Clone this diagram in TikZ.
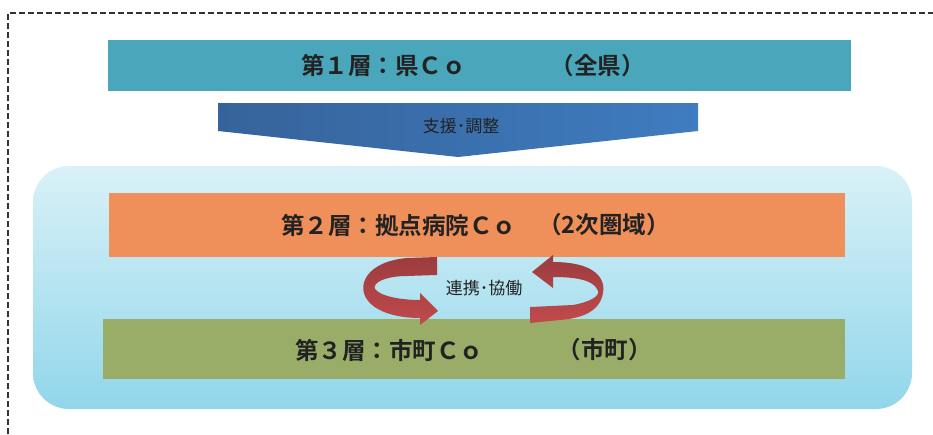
\documentclass[tikz,border=0pt]{standalone}
\usepackage{fontspec}
\newfontfamily\jp{Noto Sans CJK JP}[BoldFont={Noto Sans CJK JP Bold}]
\definecolor{tealbar}{HTML}{4AA6BA}
\definecolor{orangebar}{HTML}{EF8F5A}
\definecolor{greenbar}{HTML}{9AAD68}
\definecolor{bgtop}{HTML}{D9F1F7}
\definecolor{bgbot}{HTML}{91D6EB}
\definecolor{arrL}{HTML}{36639A}
\definecolor{arrR}{HTML}{3F7CC0}
\definecolor{redD}{HTML}{9C3C3E}
\definecolor{redL}{HTML}{C04A4C}
\definecolor{txt}{HTML}{222222}
\begin{document}
\begin{tikzpicture}[x=1pt,y=-1pt,
  bar/.style={draw=none,inner sep=0pt,outer sep=0pt},
  big/.style={font=\jp\bfseries\fontsize{23.5}{23.5}\selectfont,text=txt,inner sep=0pt},
  small/.style={font=\jp\fontsize{17}{17}\selectfont,text=txt,inner sep=0pt},
  ring/.style={top color=redD,bottom color=redL,draw=none}]
\useasboundingbox (0,0) rectangle (933,434);
% dashed frame
\draw[dash pattern=on 6pt off 3pt,line width=1.4pt,color=black!80] (8,434) -- (8,13) -- (933,13);
% background panel
\node[bar,minimum width=879pt,minimum height=243pt,rounded corners=36pt,top color=bgtop,bottom color=bgbot] (panel) at (472.5,287.5) {};
% layer bars
\node[bar,fill=tealbar,minimum width=743pt,minimum height=51pt] (l1) at (479.5,65.5) {};
\node[bar,fill=orangebar,minimum width=736pt,minimum height=64pt] (l2) at (477,225) {};
\node[bar,fill=greenbar,minimum width=742pt,minimum height=60pt] (l3) at (474,348.5) {};
% support arrow
\shade[left color=arrL,right color=arrR] (218,103) -- (698,103) -- (698,131) -- (458,157) -- (218,131) -- cycle;
\node[small] (sup) at (461,126) {支援･調整};
% layer texts
\node[big,anchor=west] (t1a) at (301,65.5) {第１層：県Ｃｏ};
\node[big,anchor=east] (t1b) at (645,65.5) {（全県）};
\node[big,anchor=west] (t2a) at (281,225) {第２層：拠点病院Ｃｏ};
\node[big,anchor=east] (t2b) at (670,225) {（2次圏域）};
\node[big,anchor=west] (t3a) at (295,350) {第３層：市町Ｃｏ};
\node[big,anchor=east] (t3b) at (652,350) {（市町）};
% circular arrows
\path[ring] (437,257) -- (407,258) .. controls (372,261) and (358,280) .. (365,296)
  .. controls (372,311) and (395,318) .. (420,318) -- (420,325) -- (438,311) -- (420,293) -- (420,300)
  .. controls (400,300) and (380,296) .. (375,289) .. controls (372,283) and (385,276) .. (407,276) -- (437,275) -- cycle;
\path[ring] (530,307) -- (573,305) .. controls (590,302) and (600,296) .. (598,291)
  .. controls (595,283) and (585,277) .. (553,277) -- (553,288) -- (532,272) -- (553,255) -- (553,262)
  .. controls (590,262) and (606,275) .. (603,293) .. controls (600,310) and (585,318) .. (560,320) -- (530,323) -- cycle;
\node[small] (coop) at (484,288) {連携･協働};
\end{tikzpicture}
\end{document}
